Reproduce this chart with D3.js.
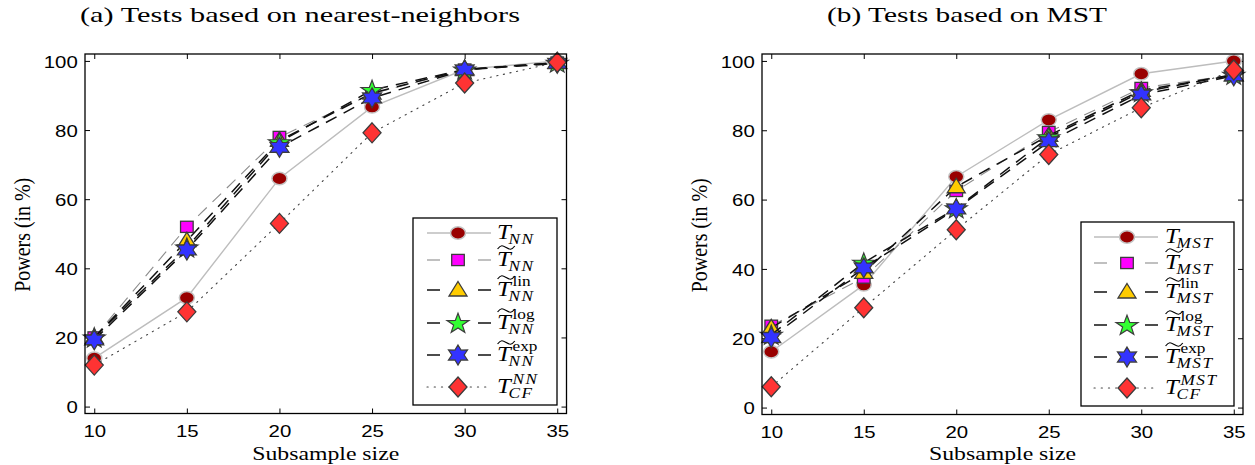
<!DOCTYPE html>
<html><head><meta charset="utf-8">
<script src="https://cdn.jsdelivr.net/npm/d3@7"></script>
<style>body{margin:0;background:#fff}svg{display:block}</style>
</head><body><svg id="c" width="1255" height="465"></svg>
<script>
// ---------------- data ----------------
const sizes = [10, 15, 20, 25, 30, 35];
const yTickValues = [0, 20, 40, 60, 80, 100];
const xTickValues = [10, 15, 20, 25, 30, 35];

const nnT    = [14, 31.5, 66, 86.7, 97.5, 100];
const nnTt   = [20, 52, 78, 90.5, 97.5, 99.5];
const nnLin  = [20, 48, 77, 90.7, 97.5, 99.5];
const nnLog  = [20, 46, 76.5, 91.6, 97.5, 99.5];
const nnExp  = [19.3, 45.3, 75, 89.3, 97.4, 99.3];
const nnCF   = [12, 27.4, 53, 79.2, 93.6, 99.6];

const mstT   = [16.1, 35.4, 66.6, 83, 96.3, 100];
const mstTt  = [23.6, 37.5, 62.5, 79.5, 92.2, 96];
const mstLin = [23, 39, 63.7, 78.5, 91.5, 96];
const mstLog = [21, 41.8, 57.5, 78, 91, 96];
const mstExp = [20.2, 40.3, 57.3, 76.7, 90.2, 95.7];
const mstCF  = [6, 28.8, 51.3, 73, 86.5, 97.4];

const titles = ["(a) Tests based on nearest-neighbors", "(b) Tests based on MST"];
const xLabel = "Subsample size";
const yLabel = "Powers (in %)";
const subNames = ["NN", "MST"];
const supLabels = [null, null, "lin", "log", "exp", null];

// ---------------- styles ----------------
const SX = 1.2; // horizontal stretch of the original figure
const serif = "Liberation Serif";
const sans = "Liberation Sans";

const lineStyles = [
  {stroke: "#bdbdbd", width: 1.4, dash: null},
  {stroke: "#8c8c8c", width: 1.1, dash: "12,8"},
  {stroke: "#111", width: 1.5, dash: "12,8"},
  {stroke: "#111", width: 1.5, dash: "12,8"},
  {stroke: "#111", width: 1.5, dash: "12,8"},
  {stroke: "#444", width: 1.1, dash: "1.2,5.5"}
];
const markerFill = ["#990000", "#ff00ff", "#ffcc00", "#33ff33", "#3333ff", "#ff3333"];

function starPath(n, R, r, sx) {
  const pts = [];
  for (let i = 0; i < 2 * n; i++) {
    const a = -Math.PI / 2 + i * Math.PI / n;
    const rr = i % 2 === 0 ? R : r;
    pts.push([rr * Math.cos(a) * sx, rr * Math.sin(a)]);
  }
  return "M" + pts.map(p => p[0].toFixed(2) + "," + p[1].toFixed(2)).join("L") + "Z";
}
function drawMarker(g, k, x, y) {
  const fill = markerFill[k];
  const st = "#3c3c3c";
  if (k === 0) {
    g.append("ellipse").attr("cx", x).attr("cy", y).attr("rx", 7.5).attr("ry", 6.2)
      .attr("fill", fill).attr("stroke", "#c4c4c4").attr("stroke-width", 1.5);
  } else if (k === 1) {
    g.append("rect").attr("x", x - 6.3).attr("y", y - 5.6).attr("width", 12.6).attr("height", 11.2)
      .attr("fill", fill).attr("stroke", st).attr("stroke-width", 1.3);
  } else if (k === 2) {
    g.append("path").attr("d", `M${x},${y - 8.5}L${x + 9},${y + 6}L${x - 9},${y + 6}Z`)
      .attr("fill", fill).attr("stroke", st).attr("stroke-width", 1.3).attr("stroke-linejoin", "miter");
  } else if (k === 3) {
    g.append("path").attr("d", starPath(5, 10.5, 4.2, 1.1)).attr("transform", `translate(${x},${y + 0.8})`)
      .attr("fill", fill).attr("stroke", st).attr("stroke-width", 1.2);
  } else if (k === 4) {
    g.append("path").attr("d", starPath(6, 10, 5.6, 1.1)).attr("transform", `translate(${x},${y})`)
      .attr("fill", fill).attr("stroke", st).attr("stroke-width", 1.2);
  } else {
    g.append("path").attr("d", `M${x},${y - 10}L${x + 9},${y}L${x},${y + 10}L${x - 9},${y}Z`)
      .attr("fill", fill).attr("stroke", st).attr("stroke-width", 1.3);
  }
}

// ---------------- panels ----------------
const panels = [
  {
    x0: 85, x1: 566.5, y0: 54, y1: 413.5,
    series: [nnT, nnTt, nnLin, nnLog, nnExp, nnCF],
    titleX: 80, titleW: 440, ylabX: 30,
    leg: {bx0: 413, by0: 218, bx1: 557, by1: 405, lx0: 427, lx1: 491, mx: 458, tx: 497,
          rows: [233, 260, 290, 323, 355, 387]}
  },
  {
    x0: 762, x1: 1243, y0: 54, y1: 414.5,
    series: [mstT, mstTt, mstLin, mstLog, mstExp, mstCF],
    titleX: 827, titleW: 280, ylabX: 707,
    leg: {bx0: 1081, by0: 222, bx1: 1234, by1: 406, lx0: 1094, lx1: 1158, mx: 1127, tx: 1165,
          rows: [237, 263, 292, 325, 357, 388]}
  }
];

const svg = d3.select("#c");

function stretchedText(parent, x, y, str, opts) {
  const g = parent.append("g").attr("transform", `translate(${x},${y}) scale(${SX},1)` + (opts.rotate ? ` rotate(${opts.rotate})` : ""));
  const t = g.append("text").attr("x", 0).attr("y", 0).text(str)
    .attr("font-family", opts.family).attr("font-size", opts.size).attr("font-weight", "normal")
    .attr("text-anchor", opts.anchor || "start").attr("fill", "#000");
  if (opts.style) t.attr("font-style", opts.style);
  if (opts.width) t.attr("textLength", opts.width).attr("lengthAdjust", "spacingAndGlyphs");
  return t;
}

function mathLabel(parent, x, yBase, k, subName) {
  const g = parent.append("g").attr("transform", `translate(${x},${yBase}) scale(1.15,1)`);
  const T = g.append("text").text("T").attr("font-family", serif).attr("font-style", "italic")
    .attr("font-size", 21.5).attr("x", 0).attr("y", 0);
  const w = T.node().getComputedTextLength();
  const tilde = k >= 1 && k <= 4;
  if (tilde) {
    const tx0 = 0.5, tx1 = w + 3.5, ty = -18;
    const m = (tx0 + tx1) / 2;
    g.append("path")
      .attr("d", `M${tx0},${ty + 1.5} C${tx0 + 3},${ty - 3} ${m - 3},${ty - 2} ${m},${ty} S${tx1 - 3},${ty + 3} ${tx1},${ty - 1.5}`)
      .attr("fill", "none").attr("stroke", "#000").attr("stroke-width", 1);
  }
  let sub, sup = null, supItalic = false;
  if (k === 5) { sub = "CF"; sup = subName; supItalic = true; }
  else { sub = subName; sup = supLabels[k]; }
  g.append("text").text(sub).attr("font-family", serif).attr("font-style", "italic")
    .attr("font-size", 15).attr("letter-spacing", 1.3).attr("x", w - 2).attr("y", 5.5);
  if (sup) {
    const s = g.append("text").text(sup).attr("font-family", serif)
      .attr("font-size", 15).attr("x", w + 1.5).attr("y", supItalic ? -8.5 : -10);
    if (supItalic) s.attr("font-style", "italic").attr("letter-spacing", 1.3);
  }
}

panels.forEach((p, pi) => {
  const x = d3.scaleLinear().domain([9.5, 35.5]).range([p.x0, p.x1]);
  const y = d3.scaleLinear().domain([-2, 102]).range([p.y1, p.y0]);
  const g = svg.append("g");

  // axes (inward ticks on all four sides)
  const axB = g.append("g").attr("transform", `translate(0,${p.y1})`)
    .call(d3.axisBottom(x).tickValues(xTickValues).tickSizeInner(-5).tickSizeOuter(0).tickPadding(11.5));
  const axT = g.append("g").attr("transform", `translate(0,${p.y0})`)
    .call(d3.axisTop(x).tickValues(xTickValues).tickSizeInner(-5).tickSizeOuter(0).tickFormat(""));
  const axL = g.append("g").attr("transform", `translate(${p.x0},0)`)
    .call(d3.axisLeft(y).tickValues(yTickValues).tickSizeInner(-5).tickSizeOuter(0).tickPadding(6));
  const axR = g.append("g").attr("transform", `translate(${p.x1},0)`)
    .call(d3.axisRight(y).tickValues(yTickValues).tickSizeInner(-5).tickSizeOuter(0).tickFormat(""));
  [axB, axT, axL, axR].forEach(a => {
    a.select(".domain").remove();
    a.selectAll(".tick line").attr("stroke", "#000").attr("stroke-width", 1);
  });
  [axB, axL].forEach(a => a.selectAll(".tick text")
    .attr("font-family", sans).attr("font-size", 17).attr("fill", "#000")
    .attr("transform", `scale(${SX},1)`));
  axL.selectAll(".tick text").attr("dy", "0.36em");

  // data lines + markers
  p.series.forEach((vals, k) => {
    const st = lineStyles[k];
    const line = d3.line().x((d, i) => x(sizes[i])).y(d => y(d));
    const path = g.append("path").datum(vals).attr("d", line).attr("fill", "none")
      .attr("stroke", st.stroke).attr("stroke-width", st.width);
    if (st.dash) path.attr("stroke-dasharray", st.dash);
    if (k === 5) path.attr("stroke-linecap", "round");
    vals.forEach((v, i) => drawMarker(g, k, x(sizes[i]), y(v)));
  });

  // box
  g.append("rect").attr("x", p.x0).attr("y", p.y0).attr("width", p.x1 - p.x0).attr("height", p.y1 - p.y0)
    .attr("fill", "none").attr("stroke", "#000").attr("stroke-width", 1.3);

  // legend
  const L = p.leg;
  const lg = g.append("g");
  lg.append("rect").attr("x", L.bx0).attr("y", L.by0).attr("width", L.bx1 - L.bx0).attr("height", L.by1 - L.by0)
    .attr("fill", "#fff").attr("stroke", "#000").attr("stroke-width", 1.3);
  L.rows.forEach((ry, k) => {
    const st = lineStyles[k];
    if (k === 0 || k === 5) {
      const ln = lg.append("line").attr("x1", L.lx0).attr("x2", L.lx1).attr("y1", ry).attr("y2", ry)
        .attr("stroke", st.stroke).attr("stroke-width", st.width);
      if (k === 5) ln.attr("stroke-dasharray", "1.2,6").attr("stroke-linecap", "round");
    } else {
      [[L.lx0, L.lx0 + 13], [L.lx1 - 13, L.lx1]].forEach(s => {
        lg.append("line").attr("x1", s[0]).attr("x2", s[1]).attr("y1", ry).attr("y2", ry)
          .attr("stroke", st.stroke).attr("stroke-width", st.width);
      });
    }
    drawMarker(lg, k, L.mx, ry);
    mathLabel(lg, L.tx, ry + 5.5, k, subNames[pi]);
  });

  // titles and axis labels
  stretchedText(svg, p.titleX, 22, titles[pi], {family: serif, size: 21, width: p.titleW / SX});
  stretchedText(svg, (p.x0 + p.x1) / 2, 459.5, xLabel, {family: serif, size: 18.5, anchor: "middle", width: 147 / SX});
  stretchedText(svg, p.ylabX, (p.y0 + p.y1) / 2 + 1, yLabel, {family: serif, size: 18.5, anchor: "middle", rotate: -90, width: 114});
});
</script>
</body></html>
